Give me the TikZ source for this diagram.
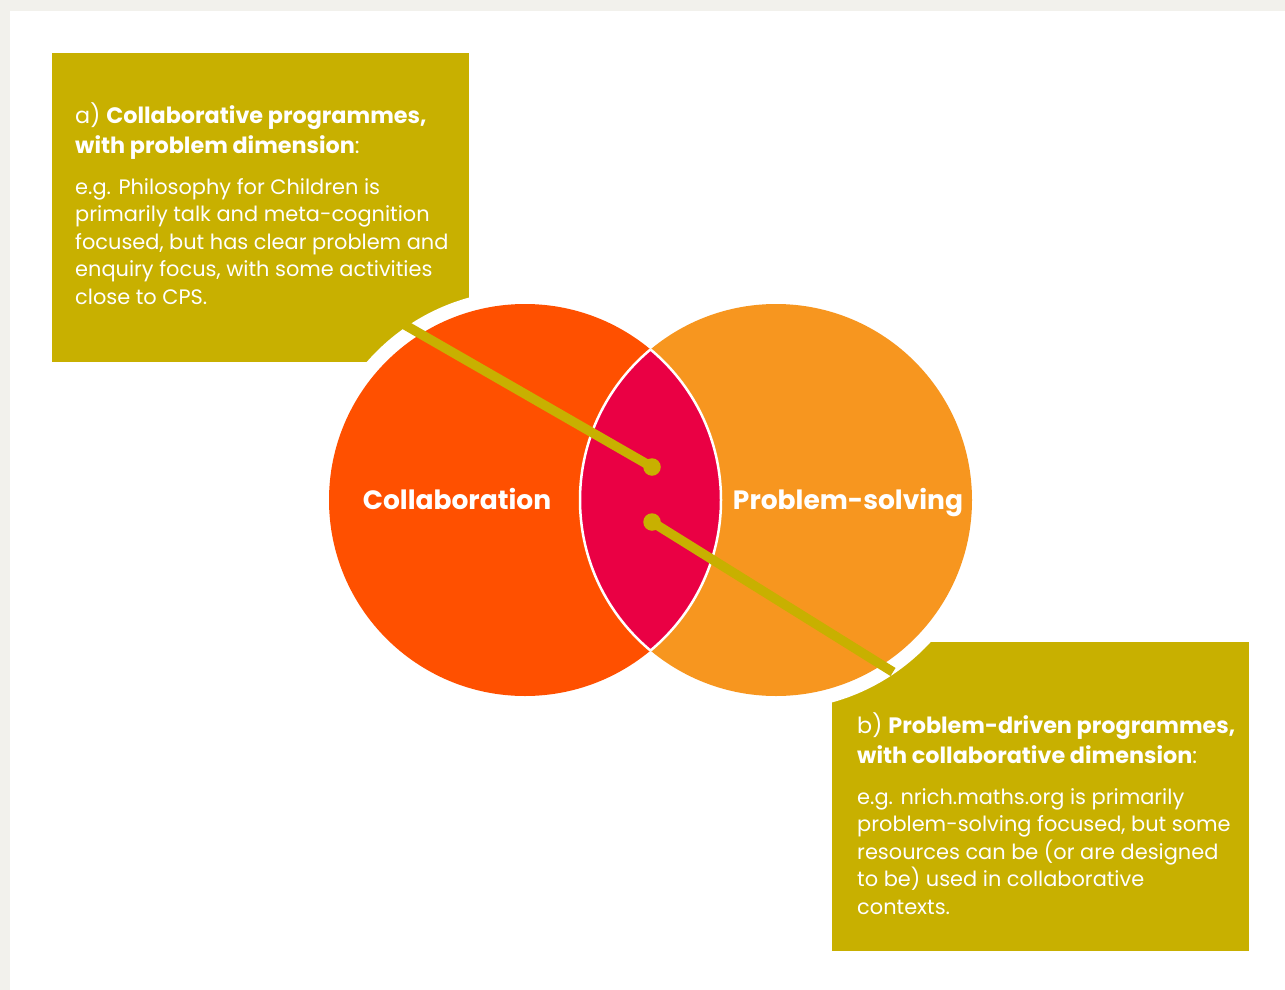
\documentclass[tikz,border=0pt]{standalone}
\usepackage{fontspec}
\setmainfont{Poppins}
\definecolor{bggrey}{HTML}{F2F1EC}
\definecolor{olive}{HTML}{C8B000}
\definecolor{collab}{HTML}{FF5000}
\definecolor{prob}{HTML}{F7961F}
\definecolor{lens}{HTML}{EA0044}
\tikzset{
    %Define style for the two sets
    set/.style={
           circle,
           minimum size=392pt,
           inner sep=0pt},
    halo/.style={
           circle,
           fill=white,
           minimum size=420pt,
           inner sep=0pt},
    settext/.style={
           text=white,
           anchor=base,
           font=\fontsize{26.5}{30}\selectfont\bfseries},
    % Define style for callout texts (anchored at the last line)
    boxtext/.style={
           text=white,
           align=left,
           anchor=base west,
           inner sep=0pt,
           font=\fontsize{20.9}{27.5}\selectfont},
    headtext/.style={
           boxtext,
           font=\fontsize{22.3}{30}\selectfont},
    % Define connector style
    link/.style={
           draw=olive,
           line width=9.5pt},
    dot/.style={
           circle,
           fill=olive,
           minimum size=17.5pt,
           inner sep=0pt}
}
\begin{document}
\begin{tikzpicture}[x=1pt,y=-1pt]
\useasboundingbox (0,0) rectangle (1285,990);
\fill[bggrey] (0,0) rectangle (1285,990);
\fill[white] (10,11) rectangle (1285,990);
% callout boxes
\fill[olive] (52,53) rectangle (469,362);
\fill[olive] (832,642) rectangle (1249,951);
% sets
\node[halo] (haloC) at (525,500) {};
\node[halo] (haloP) at (776,500) {};
\node[set,fill=collab] (collab) at (525,500) {};
\node[set,fill=prob] (prob) at (776,500) {};
\begin{scope}
  \clip (525,500) circle[radius=196];
  \draw[white,line width=2.5pt,fill=lens] (776,500) circle[radius=196];
\end{scope}
\begin{scope}
  \clip (776,500) circle[radius=196];
  \draw[white,line width=2.5pt] (525,500) circle[radius=196];
\end{scope}
\node[settext] (collabl) at (457,509) {Collaboration};
\node[settext] (probl) at (848,509) {Problem-solving};
% connectors
\coordinate (aend) at (405,325);
\coordinate (bend) at (893,672);
\node[dot] (adot) at (652,467) {};
\node[dot] (bdot) at (652,522) {};
\draw[link] (aend) -- (adot.center);
\draw[link] (bdot.center) -- (bend);
% texts
\node[headtext] (ahead) at (75,153) {a) \textbf{Collaborative programmes,}\\\textbf{with problem dimension}:};
\node[boxtext] (abody) at (75,304) {e.g. Philosophy for Children is\\primarily talk and meta-cognition\\focused, but has clear problem and\\enquiry focus, with some activities\\close to CPS.};
\node[headtext] (bhead) at (857,763) {b) \textbf{Problem-driven programmes,}\\\textbf{with collaborative dimension}:};
\node[boxtext] (bbody) at (857,914) {e.g. nrich.maths.org is primarily\\problem-solving focused, but some\\resources can be (or are designed\\to be) used in collaborative\\contexts.};
\end{tikzpicture}
\end{document}
